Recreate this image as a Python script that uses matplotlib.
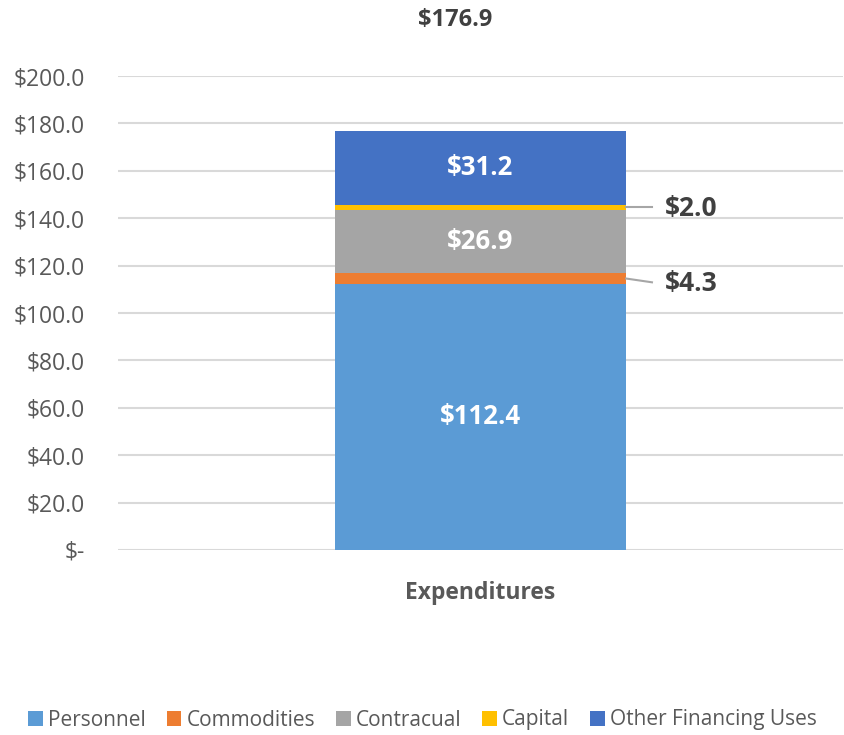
import numpy as np
import matplotlib.pyplot as plt

plt.rcParams['font.family'] = ['Open Sans', 'DejaVu Sans']

category = "Expenditures"
series = ["Personnel", "Commodities", "Contracual", "Capital", "Other Financing Uses"]
values = [112.4, 4.3, 26.9, 2.0, 31.2]
colors = ["#5B9BD5", "#ED7D31", "#A5A5A5", "#FFC000", "#4472C4"]
total = 176.9
yticks = [0, 20, 40, 60, 80, 100, 120, 140, 160, 180, 200]


def money(v):
    return "$-" if v == 0 else f"${v:.1f}"


fig = plt.figure(figsize=(8.45, 7.35), dpi=100)
ax = fig.add_axes([118 / 845, 1 - 550 / 735, 725 / 845, 474 / 735])

bar_w = 0.803
bottom = 0.0
drops = {4.3: -1.6, 2.0: 0.0}
for name, v, c in zip(series, values, colors):
    ax.bar(0, v, bar_w, bottom=bottom, color=c, label=name, zorder=3)
    mid = bottom + v / 2
    if v > 10:
        ax.text(0, mid, money(v), ha="center", va="center", color="white",
                fontsize=18.5, fontweight="bold", zorder=4)
    else:
        # outside label with a short grey leader line
        d = drops.get(v, 0.0)
        ax.plot([bar_w / 2, 0.473], [mid, mid + d], color="#A6A6A6", lw=1.5,
                zorder=4, clip_on=False)
        ax.text(0.51, mid + d - 0.6, money(v), ha="left", va="center", fontsize=19,
                fontweight="bold", color="#404040")
    bottom += v

ax.set_xlim(-1, 1)
ax.set_ylim(0, 200)
ax.set_yticks(yticks)
ax.set_yticklabels([money(v) for v in yticks])
ax.set_xticks([0])
ax.set_xticklabels([category], fontweight="bold")
ax.tick_params(axis="y", length=0, pad=24, labelsize=16.5, labelcolor="#595959")
ax.tick_params(axis="x", length=0, pad=22, labelsize=16.5, labelcolor="#595959")
ax.grid(axis="y", color="#D9D9D9", lw=1.5, zorder=0)
for s in ax.spines.values():
    s.set_visible(False)

fig.text(455 / 845, 1 - 20 / 735, money(total), ha="center", va="center",
         fontsize=17, fontweight="bold", color="#404040")

fig.legend(loc="center", bbox_to_anchor=(0.5, 1 - 720 / 735), ncol=5,
           frameon=False, fontsize=15, handlelength=0.7, handleheight=0.7,
           handletextpad=0.25, columnspacing=1.0, labelcolor="#595959")

fig.savefig("out.png", dpi=100)
